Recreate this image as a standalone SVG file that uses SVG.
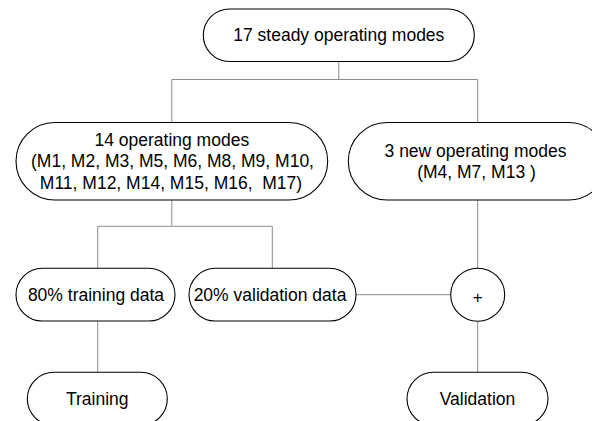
<svg xmlns="http://www.w3.org/2000/svg" width="592" height="421" viewBox="0 0 592 421">
<style>
  .node { fill: #ffffff; stroke: #000000; stroke-width: 1.1; }
  .lbl { font-family: "Liberation Sans", Arial, sans-serif; font-size: 17.5px; fill: #000000; text-anchor: middle; }
  .plus { font-family: "Liberation Sans", Arial, sans-serif; font-size: 17px; fill: #000000; text-anchor: middle; }
  .conn { fill: none; stroke: #8c8c8c; stroke-width: 1; }
</style>
<rect width="592" height="421" fill="#ffffff"/>
<g id="connectors">
  <path class="conn" d="M338.8,61.5 V79.5 M171.8,79.5 H477.7 M171.8,79.5 V122.5 M477.7,79.5 V122.5"/>
  <path class="conn" d="M171.8,200 V226.3 M97.7,226.3 H272.3 M97.7,226.3 V268.3 M272.3,226.3 V268.3"/>
  <path class="conn" d="M97.7,321 V372.3"/>
  <path class="conn" d="M356,294.7 H450.7"/>
  <path class="conn" d="M477.7,200 V268.2 M477.7,321.2 V372.3"/>
</g>
<g id="n17">
  <rect class="node" x="203.3" y="9" width="271" height="52.5" rx="26.25" ry="26.25"/>
  <text class="lbl" x="338.8" y="41.3">17 steady operating modes</text>
</g>
<g id="n14">
  <rect class="node" x="16" y="122.5" width="311.7" height="77.5" rx="38.75" ry="38.75"/>
  <text class="lbl" x="171.8" y="145.9">14 operating modes</text>
  <text class="lbl" x="172.5" y="167.4">(M1, M2, M3, M5, M6, M8, M9, M10,</text>
  <text class="lbl" x="171" y="188.9" xml:space="preserve">M11, M12, M14, M15, M16,  M17)</text>
</g>
<g id="n3">
  <rect class="node" x="348.3" y="122.5" width="259" height="77.5" rx="38.75" ry="38.75"/>
  <text class="lbl" x="475.5" y="156.6">3 new operating modes</text>
  <text class="lbl" x="476.5" y="177.9" xml:space="preserve">(M4, M7, M13 )</text>
</g>
<g id="n80">
  <rect class="node" x="16" y="268.3" width="159" height="52.7" rx="26.35" ry="26.35"/>
  <text class="lbl" x="96" y="300.8">80% training data</text>
</g>
<g id="n20">
  <rect class="node" x="189" y="268.3" width="167" height="52.7" rx="26.35" ry="26.35"/>
  <text class="lbl" x="270" y="300.8">20% validation data</text>
</g>
<g id="plus">
  <ellipse class="node" cx="477.7" cy="294.7" rx="27" ry="26.5"/>
  <text class="plus" x="477.7" y="302.5">+</text>
</g>
<g id="training">
  <rect class="node" x="27.3" y="372.3" width="140" height="53" rx="26.5" ry="26.5"/>
  <text class="lbl" x="97.3" y="404.9">Training</text>
</g>
<g id="validation">
  <rect class="node" x="407" y="372.3" width="141" height="53" rx="26.5" ry="26.5"/>
  <text class="lbl" x="477.5" y="404.9">Validation</text>
</g>
</svg>
